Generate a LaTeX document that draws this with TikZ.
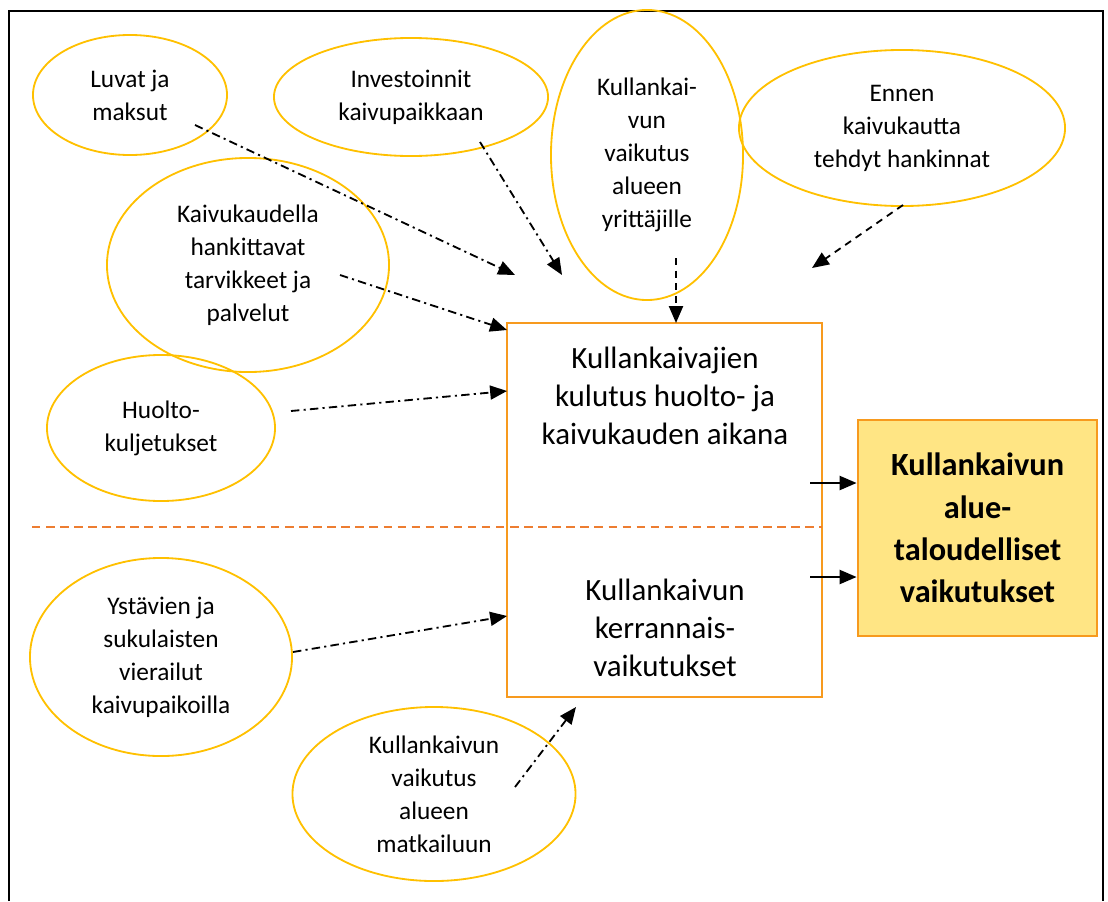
\documentclass[tikz,border=0pt]{standalone}
\usepackage{fontspec}
\setmainfont{Carlito}
\usetikzlibrary{shapes.geometric,arrows.meta}
\definecolor{kulta}{HTML}{FFC000}
\definecolor{oranssi}{HTML}{F79A1E}
\definecolor{viiva}{HTML}{ED7D31}
\definecolor{keltainen}{HTML}{FFE584}
\begin{document}
\begin{tikzpicture}[x=0.025cm,y=-0.025cm,
    kupla/.style={ellipse,draw=kulta,line width=1.3pt,inner sep=0pt,align=center,
        font=\fontsize{18}{23.5}\selectfont},
    laatikko/.style={draw=oranssi,line width=1.3pt,inner sep=0pt},
    nuoli/.style={-{Triangle[length=12pt,width=10pt]},line width=1.3pt,
        dash pattern=on 6pt off 3pt on 1.5pt off 3pt},
    katko/.style={-{Triangle[length=12pt,width=10pt]},line width=1.3pt,
        dash pattern=on 5pt off 4pt},
    suora/.style={-{Triangle[length=12pt,width=10pt]},line width=1.3pt}]
    \useasboundingbox (0,0) rectangle (1108,901);
    \draw[line width=1.4pt] (9,901) -- (9,11) -- (1103,11) -- (1103,901);
    \node[kupla,minimum width=4.85cm,minimum height=3cm] (luvat) at (130,95) {Luvat ja\\maksut};
    \node[kupla,minimum width=6.85cm,minimum height=2.95cm] (invest) at (411,97) {Investoinnit\\kaivupaikkaan};
    \node[kupla,minimum width=4.8cm,minimum height=7.25cm] (yrittajat) at (647,155) {Kullankai-\\vun\\vaikutus\\alueen\\yrittäjille};
    \node[kupla,minimum width=8.15cm,minimum height=3.9cm] (ennen) at (902,128) {Ennen\\kaivukautta\\tehdyt hankinnat};
    \node[kupla,minimum width=7.05cm,minimum height=5.35cm] (tarvikkeet) at (248,265) {Kaivukaudella\\hankittavat\\tarvikkeet ja\\palvelut};
    \node[kupla,minimum width=5.7cm,minimum height=3.65cm] (huolto) at (161,428) {Huolto-\\kuljetukset};
    \node[kupla,minimum width=6.55cm,minimum height=4.95cm] (vierailut) at (161,657) {Ystävien ja\\sukulaisten\\vierailut\\kaivupaikoilla};
    \node[kupla,minimum width=7.075cm,minimum height=4.35cm] (matkailu) at (434,794) {Kullankaivun\\vaikutus\\alueen\\matkailuun};
    \node[laatikko,minimum width=7.875cm,minimum height=9.35cm] (kulutus) at (664.5,510) {};
    \draw[viiva,line width=1.3pt,dash pattern=on 6pt off 4pt] (32,527) -- (822,527);
    \node[align=center,font=\fontsize{22}{27}\selectfont] (ylateksti) at (665,396) {Kullankaivajien\\kulutus huolto- ja\\kaivukauden aikana};
    \node[align=center,font=\fontsize{22}{27}\selectfont] (alateksti) at (665,628) {Kullankaivun\\kerrannais-\\vaikutukset};
    \node[draw=oranssi,fill=keltainen,line width=2pt,minimum width=5.975cm,minimum height=5.4cm,
        align=center,font=\fontsize{23}{30}\selectfont\bfseries] (vaikutukset) at (977.5,528)
        {Kullankaivun\\alue-\\taloudelliset\\vaikutukset};
    \coordinate (luvat-a) at (195,125);
    \coordinate (luvat-b) at (515,275);
    \coordinate (invest-a) at (480,142);
    \coordinate (invest-b) at (562,275);
    \coordinate (yrittajat-a) at (676,258);
    \coordinate (yrittajat-b) at (676,323);
    \coordinate (ennen-a) at (903,205);
    \coordinate (ennen-b) at (812,268);
    \coordinate (tarvikkeet-a) at (340,275);
    \coordinate (tarvikkeet-b) at (507,330);
    \coordinate (huolto-a) at (291,411);
    \coordinate (huolto-b) at (507,391);
    \coordinate (vierailut-a) at (293,652);
    \coordinate (vierailut-b) at (507,616);
    \coordinate (matkailu-a) at (515,787);
    \coordinate (matkailu-b) at (576,707);
    \coordinate (yla-a) at (810,483);
    \coordinate (ala-a) at (810,577);
    \draw[nuoli] (luvat-a) -- (luvat-b);
    \draw[nuoli] (invest-a) -- (invest-b);
    \draw[katko] (yrittajat-a) -- (yrittajat-b);
    \draw[katko] (ennen-a) -- (ennen-b);
    \draw[nuoli] (tarvikkeet-a) -- (tarvikkeet-b);
    \draw[nuoli] (huolto-a) -- (huolto-b);
    \draw[nuoli] (vierailut-a) -- (vierailut-b);
    \draw[nuoli] (matkailu-a) -- (matkailu-b);
    \draw[suora] (yla-a) -- (yla-a -| vaikutukset.west);
    \draw[suora] (ala-a) -- (ala-a -| vaikutukset.west);
\end{tikzpicture}
\end{document}
